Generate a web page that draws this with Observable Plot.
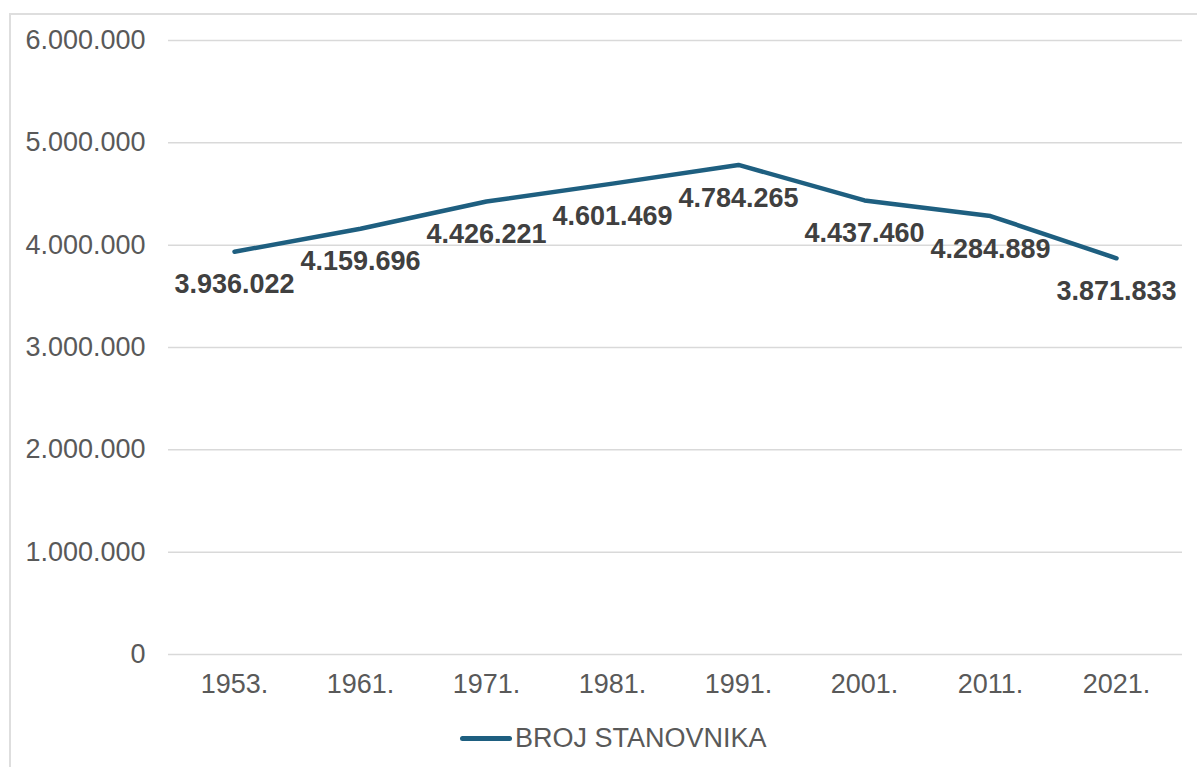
<!DOCTYPE html>
<html>
<head>
<meta charset="utf-8">
<script src="https://cdn.jsdelivr.net/npm/d3@7"></script>
<script src="https://cdn.jsdelivr.net/npm/@observablehq/plot@0.6"></script>
<style>
  html, body { margin: 0; padding: 0; background: #fff; overflow: hidden; width: 1197px; height: 767px; }
  body { position: relative; font-family: "Liberation Sans", Arial, sans-serif; }
  #frame { position: absolute; left: 9px; top: 13px; width: 1400px; height: 900px; border: 2px solid #dedede; box-sizing: border-box; }
  #chart { position: absolute; left: 0; top: 0; }
  #legend { position: absolute; left: 460px; top: 720px; height: 36px; display: flex; align-items: center; font-size: 27px; color: #595959; }
  #legend .swatch { width: 52px; height: 5px; border-radius: 3px; background: #1e5f80; margin-right: 3px; }
</style>
</head>
<body>
<div id="frame"></div>
<div id="chart"></div>
<div id="legend"><span class="swatch"></span><span id="legend-label"></span></div>
<script>
const years = ["1953.", "1961.", "1971.", "1981.", "1991.", "2001.", "2011.", "2021."];
const population = [3936022, 4159696, 4426221, 4601469, 4784265, 4437460, 4284889, 3871833];
const yTicks = [0, 1000000, 2000000, 3000000, 4000000, 5000000, 6000000];
const seriesName = "BROJ STANOVNIKA";

const locale = d3.formatLocale({decimal: ",", thousands: ".", grouping: [3], currency: ["", ""]});
const fmt = locale.format(",");

const data = years.map((y, i) => ({year: y, value: population[i]}));
const lineColor = "#1e5f80";

const chart = Plot.plot({
  width: 1197,
  height: 712,
  marginLeft: 168,
  marginRight: 15,
  marginTop: 40,
  marginBottom: 58,
  style: {fontFamily: "'Liberation Sans', Arial, sans-serif", background: "transparent"},
  x: {type: "point", domain: years, padding: 0.5, label: null},
  y: {domain: [0, 6000000], label: null},
  marks: [
    Plot.gridY(yTicks, {stroke: "#d9d9d9", strokeOpacity: 1, strokeWidth: 1.5}),
    Plot.axisY(yTicks, {tickSize: 0, tickPadding: 23, tickFormat: fmt, fontSize: 27, fill: "#595959", label: null}),
    Plot.axisX({tickSize: 0, tickPadding: 19, fontSize: 27, fill: "#595959", label: null}),
    Plot.line(data, {x: "year", y: "value", stroke: lineColor, strokeWidth: 4.5, strokeLinecap: "round", strokeLinejoin: "round"}),
    Plot.text(data, {x: "year", y: "value", text: d => fmt(d.value), dy: 33, fontSize: 27, fontWeight: "bold", fill: "#404040"})
  ]
});
document.getElementById("chart").appendChild(chart);
document.getElementById("legend-label").textContent = seriesName;
</script>
</body>
</html>
